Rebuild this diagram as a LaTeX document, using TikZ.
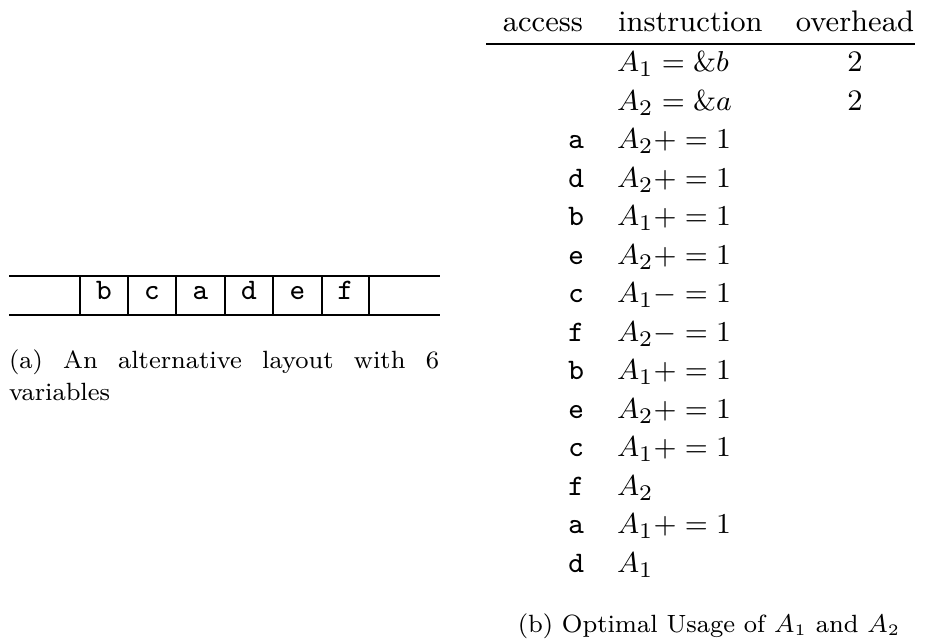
\documentclass[tikz,border=0pt]{standalone}
\begin{document}
\begin{tikzpicture}[x=0.3125pt,y=-0.3125pt,
  every node/.style={inner sep=0pt,outer sep=0pt,font=\fontsize{9.3}{11}\selectfont},
  capfont/.style={font=\fontsize{7.8}{9.4}\selectfont},
  heavyrule/.style={line width=0.65pt},
  lightrule/.style={line width=0.4pt},
  cell/.style={anchor=base,font=\fontsize{9.3}{11}\selectfont\ttfamily},
  acc/.style={anchor=base east,font=\fontsize{9.3}{11}\selectfont\ttfamily},
  instr/.style={anchor=base west},
  hdr/.style={anchor=base}]
\useasboundingbox (0,0) rectangle (931,640);
% ---------- (a) layout strip ----------
\coordinate (tl) at (9,276); \coordinate (tr) at (440,276);
\coordinate (bl) at (9,315); \coordinate (br) at (440,315);
\draw[heavyrule] (tl) -- (tr);
\draw[heavyrule] (bl) -- (br);
\foreach \x/\n in {80/v0,128/v1,176/v2,225/v3,273/v4,322/v5,369/v6}{
  \coordinate (\n t) at (\x,276); \coordinate (\n b) at (\x,315);
  \draw[lightrule] (\n t) -- (\n b);
}
\node[cell] (cb) at (104,300) {b};
\node[cell] (cc) at (152,300) {c};
\node[cell] (ca) at (200.5,300) {a};
\node[cell] (cd) at (249,300) {d};
\node[cell] (ce) at (297.5,300) {e};
\node[cell] (cf) at (345.5,300) {f};
\node[capfont,anchor=base west] (capa1) at (9,369) {\hbox to 134.4pt{(a)\hfill An\hfill alternative\hfill layout\hfill with\hfill 6}};
\node[capfont,anchor=base west] (capa2) at (9,401) {variables};
% ---------- (b) table ----------
\node[anchor=base east] (h1) at (583,32) {access};
\node[anchor=base west] (h2) at (618,32) {instruction};
\node[hdr] (h3) at (855,32) {overhead};
\coordinate (rl) at (486,44); \coordinate (rr) at (915,44);
\draw[heavyrule] (rl) -- (rr);
\node[instr] (i1) at (617,72) {$A_1=\&b$};
\node[hdr] (o1) at (855,72) {2};
\node[instr] (i2) at (617,110.5) {$A_2=\&a$};
\node[hdr] (o2) at (855,110.5) {2};
\foreach \k/\l/\ins in {0/a/{A_2+=1},1/d/{A_2+=1},2/b/{A_1+=1},3/e/{A_2+=1},4/c/{A_1-=1},5/f/{A_2-=1},6/b/{A_1+=1},7/e/{A_2+=1},8/c/{A_1+=1},9/f/{A_2},10/a/{A_1+=1},11/d/{A_1}}{
  \node[acc] (a\k) at (584,149+38.5*\k) {\l};
  \node[instr] (r\k) at (617,149+38.5*\k) {$\ins$};
}
\node[capfont,hdr] (capb) at (709,632) {(b) Optimal Usage of $A_1$ and $A_2$};
\end{tikzpicture}
\end{document}
